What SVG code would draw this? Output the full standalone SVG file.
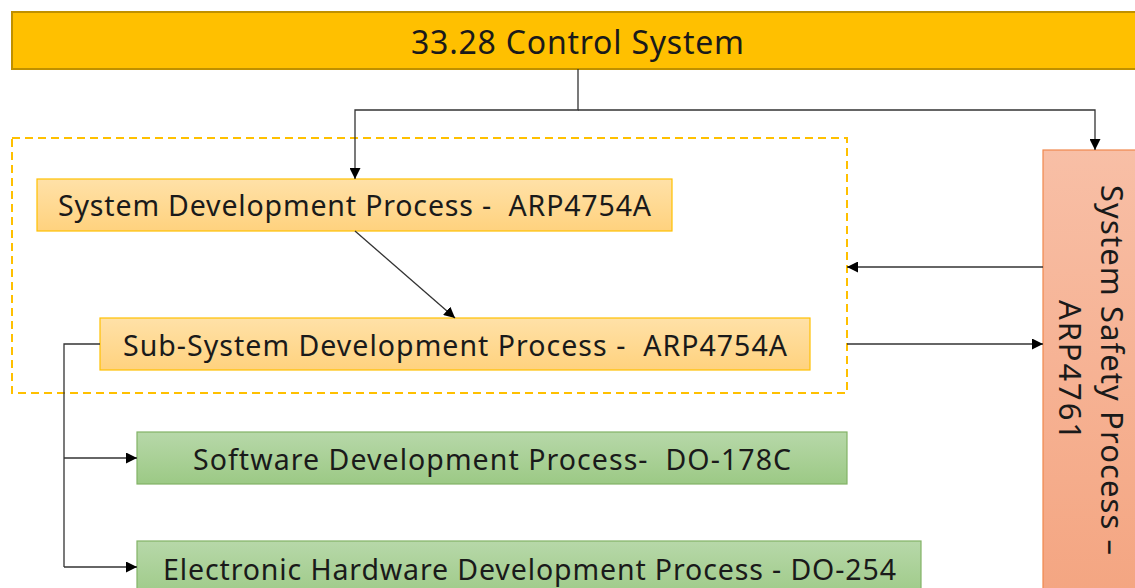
<svg xmlns="http://www.w3.org/2000/svg" width="1135" height="588" viewBox="0 0 1135 588" xml:space="preserve">
  <style>
    .lbl { font-family: "Noto Sans", "Open Sans", "Liberation Sans", sans-serif; fill: #1a1a1a; white-space: pre; }
    .wire { fill: none; stroke: #333333; stroke-width: 1.3; }
    .arrow { marker-end: url(#head); }
  </style>
  <defs>
    <linearGradient id="gOrange" x1="0" y1="0" x2="0" y2="1">
      <stop offset="0" stop-color="#FFE1A8"/>
      <stop offset="1" stop-color="#FFD27E"/>
    </linearGradient>
    <linearGradient id="gGreen" x1="0" y1="0" x2="0" y2="1">
      <stop offset="0" stop-color="#B7D8A9"/>
      <stop offset="1" stop-color="#9CC985"/>
    </linearGradient>
    <linearGradient id="gSalmon" x1="0" y1="0" x2="0" y2="1">
      <stop offset="0" stop-color="#F8BFA6"/>
      <stop offset="1" stop-color="#F4A581"/>
    </linearGradient>
    <marker id="head" viewBox="0 0 10 10" refX="10" refY="5" markerWidth="11" markerHeight="11" markerUnits="userSpaceOnUse" orient="auto">
      <path d="M0,0 L10,5 L0,10 Z" fill="#000"/>
    </marker>
  </defs>

  <!-- top-level system bar -->
  <g id="control-system">
    <rect x="12" y="12" width="1130" height="57" fill="#FFC000" stroke="#BF9000" stroke-width="2"/>
    <text class="lbl" x="411" y="54" font-size="32" textLength="333" lengthAdjust="spacing">33.28 Control System</text>
  </g>

  <!-- dashed grouping of the ARP4754A processes -->
  <g id="arp4754a-group">
    <rect x="12" y="138" width="835" height="255" fill="none" stroke="#FFC000" stroke-width="2" stroke-dasharray="8,5"/>
  </g>

  <g id="system-dev">
    <rect x="37" y="179" width="635" height="52" fill="url(#gOrange)" stroke="#FFC000" stroke-width="1.2"/>
    <text class="lbl" x="58" y="216" font-size="28.5" textLength="593" lengthAdjust="spacing">System Development Process -  ARP4754A</text>
  </g>

  <g id="subsystem-dev">
    <rect x="100" y="318" width="710" height="52" fill="url(#gOrange)" stroke="#FFC000" stroke-width="1.2"/>
    <text class="lbl" x="123" y="356" font-size="28.5" textLength="664" lengthAdjust="spacing">Sub-System Development Process -  ARP4754A</text>
  </g>

  <g id="software-dev">
    <rect x="137" y="432" width="710" height="52" fill="url(#gGreen)" stroke="#82B366" stroke-width="1.2"/>
    <text class="lbl" x="193" y="470" font-size="28.5" textLength="598" lengthAdjust="spacing">Software Development Process-  DO-178C</text>
  </g>

  <g id="hardware-dev">
    <rect x="137" y="541" width="784" height="60" fill="url(#gGreen)" stroke="#82B366" stroke-width="1.2"/>
    <text class="lbl" x="163" y="580" font-size="28.5" textLength="733" lengthAdjust="spacing">Electronic Hardware Development Process - DO-254</text>
  </g>

  <g id="safety-process">
    <rect x="1043" y="150" width="100" height="450" fill="url(#gSalmon)" stroke="#F0884D" stroke-width="1.2"/>
    <text class="lbl" transform="translate(1101,185) rotate(90)" x="0" y="0" font-size="31" textLength="370" lengthAdjust="spacing">System Safety Process –</text>
    <text class="lbl" transform="translate(1059,300) rotate(90)" x="0" y="0" font-size="31" textLength="140" lengthAdjust="spacing">ARP4761</text>
  </g>

  <!-- connectors -->
  <g id="connectors">
    <polyline class="wire arrow" points="578,69 578,110 355,110 355,179"/>
    <polyline class="wire arrow" points="578,110 1095,110 1095,150"/>
    <line class="wire arrow" x1="355" y1="231" x2="455" y2="318"/>
    <line class="wire arrow" x1="1043" y1="267" x2="847" y2="267"/>
    <line class="wire arrow" x1="847" y1="344" x2="1043" y2="344"/>
    <polyline class="wire" points="100,344 64,344 64,567"/>
    <line class="wire arrow" x1="64" y1="458" x2="137" y2="458"/>
    <line class="wire arrow" x1="64" y1="567" x2="137" y2="567"/>
  </g>
</svg>
